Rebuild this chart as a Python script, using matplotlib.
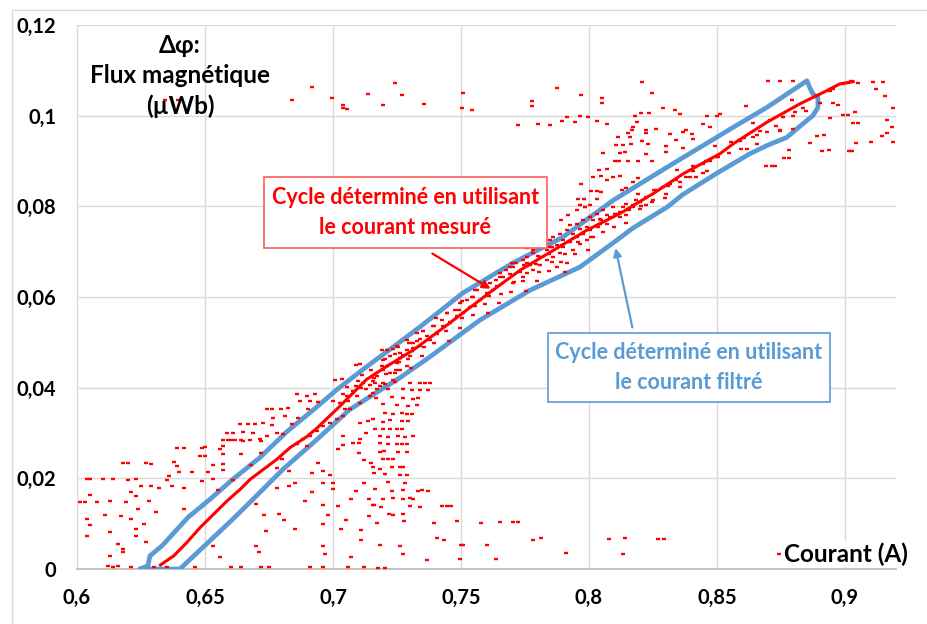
import matplotlib.pyplot as plt
from matplotlib.patches import Rectangle

plt.rcParams['font.family'] = ['Lato', 'DejaVu Sans']

ROUGE = '#FF0000'
BLEU = '#5B9BD5'
GRILLE = '#D9D9D9'

# Axes
x_ticks = [0.6, 0.65, 0.7, 0.75, 0.8, 0.85, 0.9]
x_labels = ['0,6', '0,65', '0,7', '0,75', '0,8', '0,85', '0,9']
y_ticks = [0, 0.02, 0.04, 0.06, 0.08, 0.1, 0.12]
y_labels = ['0', '0,02', '0,04', '0,06', '0,08', '0,1', '0,12']

# Cycle from the filtered current (closed loop)
filtre_x = [0.6246, 0.6277, 0.6285, 0.6332, 0.6434, 0.6520, 0.6609, 0.6715, 0.6820,
            0.6938, 0.7016, 0.7117, 0.7262, 0.7340, 0.7508, 0.7703, 0.7898, 0.8094,
            0.8305, 0.8563, 0.8695, 0.8852, 0.8863, 0.8875, 0.8895, 0.8895, 0.8875,
            0.8836, 0.8773, 0.8695, 0.8629, 0.8500, 0.8367, 0.8305, 0.8172, 0.8094,
            0.7965, 0.7770, 0.7574, 0.7379, 0.7262, 0.7066, 0.6938, 0.6805, 0.6688,
            0.6609, 0.6402, 0.6246]
filtre_y = [0.0, 0.0007, 0.0029, 0.0051, 0.0114, 0.0154, 0.0198, 0.0246, 0.0303,
            0.0358, 0.0396, 0.0440, 0.0501, 0.0534, 0.0609, 0.0675, 0.0732, 0.0813,
            0.0886, 0.0974, 0.1018, 0.1077, 0.1062, 0.1048, 0.1040, 0.1018, 0.1000,
            0.0982, 0.0952, 0.0934, 0.0916, 0.0873, 0.0826, 0.0798, 0.0752, 0.0719,
            0.0666, 0.0615, 0.0549, 0.0468, 0.0422, 0.0352, 0.0286, 0.0220, 0.0154,
            0.0110, 0.0, 0.0]

# Cycle from the measured current: dense central trace
trace_x = [0.6326, 0.6378, 0.6430, 0.6482, 0.6534, 0.6586, 0.6638, 0.6677, 0.6729,
           0.6781, 0.6833, 0.6898, 0.6936, 0.7027, 0.7131, 0.7210, 0.7314, 0.7450,
           0.7613, 0.7731, 0.7861, 0.7991, 0.8121, 0.8251, 0.8369, 0.8512, 0.8564,
           0.8694, 0.8824, 0.8915, 0.8980, 0.9033]
trace_y = [0.0009, 0.0029, 0.0059, 0.0092, 0.0121, 0.0150, 0.0176, 0.0198, 0.0220,
           0.0242, 0.0268, 0.0292, 0.0310, 0.0359, 0.0418, 0.0447, 0.0483, 0.0540,
           0.0610, 0.0659, 0.0703, 0.0747, 0.0784, 0.0828, 0.0872, 0.0916, 0.0938,
           0.0985, 0.1026, 0.1051, 0.1070, 0.1075]

# Measured points spread inside the loop
bande_x = [0.7197, 0.7223, 0.7210, 0.7249, 0.7262, 0.7242, 0.7288, 0.7314, 0.7301, 0.7327,
           0.7353, 0.7340, 0.7366, 0.7392, 0.7379, 0.7405, 0.7425, 0.7444, 0.7431, 0.7457,
           0.7477, 0.7496, 0.7483, 0.7509, 0.7522, 0.7535, 0.7548, 0.7561, 0.7574, 0.7587,
           0.7600, 0.7613, 0.7626, 0.7639, 0.7652, 0.7665, 0.7678, 0.7691, 0.7704, 0.7717,
           0.7730, 0.7743, 0.7757, 0.7770, 0.7783, 0.7796, 0.7809, 0.7822, 0.7835, 0.7848,
           0.7861, 0.7874, 0.7887, 0.7900, 0.7913, 0.7926, 0.7939, 0.7952, 0.7965, 0.7978,
           0.7991, 0.8004, 0.8017, 0.8030, 0.8043, 0.8056, 0.8069, 0.8095, 0.8121, 0.8147,
           0.8173, 0.8199, 0.8225,
           0.7001, 0.7027, 0.7053, 0.7079, 0.7092, 0.7118, 0.7131, 0.7158, 0.7171, 0.7197,
           0.7210, 0.7223, 0.7249, 0.7262, 0.7275, 0.7288, 0.7314, 0.7327, 0.7262, 0.7288,
           0.7236, 0.7184, 0.7145, 0.7105, 0.7066, 0.7040, 0.7014, 0.6988, 0.6962, 0.6936,
           0.6910, 0.6884, 0.6858,
           0.7757, 0.7783, 0.7744, 0.7809, 0.7835, 0.7861, 0.7848, 0.7887, 0.7900, 0.7926,
           0.7874, 0.7913, 0.7939, 0.7952, 0.7965, 0.7978, 0.7991, 0.8004, 0.8017, 0.8036,
           0.8049, 0.8069, 0.8082, 0.8102, 0.8121, 0.8134, 0.8147, 0.8173, 0.8186, 0.8199,
           0.8225, 0.8251, 0.8264, 0.8290, 0.8303, 0.8316, 0.8342, 0.8355, 0.8381, 0.8407,
           0.8420, 0.8446, 0.8460, 0.8473, 0.8499,
           0.8590, 0.8642, 0.8668, 0.8733, 0.8759, 0.8798, 0.8837, 0.8850, 0.8889, 0.8902,
           0.8941, 0.8954, 0.8994, 0.9013, 0.8798, 0.8746, 0.8655, 0.8616]
bande_y = [0.0462, 0.0469, 0.0447, 0.0491, 0.0476, 0.0432, 0.0506, 0.0498, 0.0469, 0.0520,
           0.0524, 0.0491, 0.0513, 0.0535, 0.0506, 0.0520, 0.0550, 0.0564, 0.0535, 0.0542,
           0.0571, 0.0586, 0.0557, 0.0564, 0.0593, 0.0579, 0.0601, 0.0615, 0.0593, 0.0623,
           0.0608, 0.0630, 0.0615, 0.0637, 0.0652, 0.0645, 0.0659, 0.0667, 0.0630, 0.0674,
           0.0656, 0.0681, 0.0689, 0.0670, 0.0696, 0.0711, 0.0689, 0.0718, 0.0703, 0.0725,
           0.0733, 0.0714, 0.0740, 0.0725, 0.0747, 0.0758, 0.0740, 0.0762, 0.0751, 0.0769,
           0.0755, 0.0777, 0.0769, 0.0784, 0.0762, 0.0791, 0.0780, 0.0799, 0.0788, 0.0806,
           0.0799, 0.0810, 0.0802,
           0.0370, 0.0366, 0.0381, 0.0392, 0.0403, 0.0410, 0.0396, 0.0414, 0.0425, 0.0439,
           0.0447, 0.0432, 0.0454, 0.0465, 0.0472, 0.0483, 0.0487, 0.0502, 0.0440, 0.0447,
           0.0418, 0.0403, 0.0381, 0.0366, 0.0352, 0.0337, 0.0330, 0.0322, 0.0315, 0.0304,
           0.0293, 0.0286, 0.0275,
           0.0674, 0.0659, 0.0645, 0.0670, 0.0681, 0.0689, 0.0711, 0.0696, 0.0711, 0.0722,
           0.0667, 0.0674, 0.0703, 0.0733, 0.0718, 0.0740, 0.0725, 0.0747, 0.0733, 0.0755,
           0.0769, 0.0762, 0.0777, 0.0784, 0.0777, 0.0799, 0.0780, 0.0802, 0.0813, 0.0795,
           0.0820, 0.0813, 0.0835, 0.0842, 0.0828, 0.0850, 0.0857, 0.0842, 0.0864, 0.0879,
           0.0864, 0.0894, 0.0879, 0.0901, 0.0908,
           0.0945, 0.0952, 0.0967, 0.0978, 0.0996, 0.1000, 0.1018, 0.1011, 0.1044, 0.1029,
           0.1055, 0.1059, 0.1070, 0.1071, 0.0971, 0.0967, 0.0938, 0.0927]

# Denser part of the measured cloud between 0.70 and 0.88 A
nuage_x = [0.7046, 0.7058, 0.7041, 0.7053, 0.7093, 0.7108, 0.7099, 0.7112,
           0.7156, 0.7143, 0.7159, 0.7147, 0.7196, 0.7207, 0.7191, 0.7204,
           0.7245, 0.7259, 0.7241, 0.7256, 0.7306, 0.7293, 0.7309, 0.7297,
           0.7347, 0.7356, 0.7342, 0.7353, 0.7396, 0.7408, 0.7393, 0.7404,
           0.7455, 0.7443, 0.7458, 0.7446, 0.7497, 0.7506, 0.7492, 0.7503,
           0.7546, 0.7557, 0.7543, 0.7554, 0.7605, 0.7593, 0.7608, 0.7596,
           0.7647, 0.7656, 0.7642, 0.7653, 0.7696, 0.7708, 0.7693, 0.7704,
           0.7755, 0.7743, 0.7758, 0.7746, 0.7797, 0.7806, 0.7792, 0.7803,
           0.7846, 0.7857, 0.7843, 0.7854, 0.7905, 0.7893, 0.7908, 0.7896,
           0.7947, 0.7956, 0.7996, 0.8008, 0.8055, 0.8043, 0.8097, 0.8106,
           0.8146, 0.8157, 0.8205, 0.8193, 0.8247, 0.8256, 0.8296, 0.8308,
           0.8355, 0.8343, 0.8397, 0.8406, 0.8446, 0.8457, 0.8505, 0.8493,
           0.8547, 0.8556, 0.8596, 0.8608, 0.8655, 0.8643, 0.8697, 0.8706,
           0.8746, 0.8757, 0.8805, 0.8793]
nuage_y = [0.0354, 0.0371, 0.0386, 0.0401, 0.0381, 0.0399, 0.0414, 0.0427,
           0.0388, 0.0406, 0.0422, 0.0438, 0.0411, 0.0430, 0.0447, 0.0464,
           0.0438, 0.0457, 0.0474, 0.0490, 0.0443, 0.0463, 0.0481, 0.0499,
           0.0469, 0.0489, 0.0507, 0.0526, 0.0498, 0.0519, 0.0537, 0.0554,
           0.0504, 0.0525, 0.0544, 0.0564, 0.0531, 0.0553, 0.0572, 0.0592,
           0.0560, 0.0581, 0.0599, 0.0616, 0.0564, 0.0584, 0.0603, 0.0622,
           0.0586, 0.0607, 0.0625, 0.0645, 0.0612, 0.0633, 0.0651, 0.0667,
           0.0614, 0.0635, 0.0653, 0.0671, 0.0635, 0.0655, 0.0673, 0.0691,
           0.0657, 0.0677, 0.0695, 0.0711, 0.0656, 0.0677, 0.0695, 0.0715,
           0.0694, 0.0721, 0.0704, 0.0732, 0.0743, 0.0771, 0.0754, 0.0782,
           0.0763, 0.0791, 0.0800, 0.0827, 0.0809, 0.0836, 0.0818, 0.0844,
           0.0854, 0.0880, 0.0864, 0.0889, 0.0874, 0.0899, 0.0909, 0.0932,
           0.0918, 0.0941, 0.0926, 0.0950, 0.0958, 0.0983, 0.0965, 0.0990,
           0.0969, 0.0997, 0.1007, 0.1035]

# Measured points scattered outside the loop
bruit_x = [
    # lower-left area
    0.639, 0.642, 0.650, 0.657, 0.660, 0.664, 0.672, 0.648, 0.650, 0.657, 0.664,
    0.618, 0.620, 0.627, 0.629, 0.638, 0.639, 0.653, 0.657, 0.640, 0.645, 0.651, 0.657,
    0.604, 0.605, 0.610, 0.614, 0.620, 0.623, 0.635, 0.636, 0.649, 0.653, 0.661,
    0.621, 0.625, 0.629, 0.632, 0.637, 0.642, 0.655, 0.605, 0.603, 0.601, 0.608, 0.613,
    0.619, 0.623, 0.628, 0.624, 0.631, 0.617, 0.621, 0.626, 0.642, 0.604, 0.605, 0.611,
    0.613, 0.623, 0.604, 0.616, 0.618, 0.613, 0.618, 0.627, 0.623, 0.612, 0.614, 0.616,
    0.621, 0.630, 0.635, 0.646, 0.653, 0.656, 0.660, 0.664, 0.672, 0.675, 0.670, 0.671,
    0.674, 0.679, 0.681, 0.685, 0.683, 0.685, 0.689, 0.692, 0.696, 0.696, 0.699, 0.700,
    0.700, 0.702, 0.704, 0.710, 0.710, 0.712, 0.715, 0.716, 0.712, 0.709, 0.714, 0.716,
    0.707, 0.702, 0.696, 0.698, 0.696, 0.703, 0.705, 0.711, 0.714, 0.711, 0.707, 0.697,
    0.696, 0.691, 0.696, 0.706, 0.712, 0.673, 0.670, 0.678, 0.678, 0.668, 0.672, 0.680,
    0.683, 0.690, 0.694, 0.692,
    # above the loop, left half
    0.6858, 0.6897, 0.6930, 0.6871, 0.6910, 0.6943, 0.6741, 0.6760, 0.6799, 0.6826,
    0.6904, 0.6767, 0.6812, 0.6865, 0.6839, 0.6637, 0.6669, 0.6695, 0.6728, 0.6760,
    0.6585, 0.6611, 0.6650, 0.6689, 0.6741, 0.6780, 0.6806, 0.6591, 0.6617, 0.6650,
    0.6676, 0.6715, 0.6572, 0.6487, 0.6559, 0.7008, 0.7034, 0.7092, 0.7105, 0.7190,
    0.7210, 0.7236,
    # below the loop, middle
    0.7040, 0.7079, 0.7105, 0.7131, 0.7105, 0.7138,
    0.7165, 0.7204, 0.7243, 0.7301, 0.7340, 0.7360, 0.7379, 0.7171, 0.7217, 0.7275,
    0.7308, 0.7340, 0.7373, 0.7168, 0.7230, 0.7275, 0.7314, 0.7334, 0.7197, 0.7249,
    0.7295, 0.7327, 0.7204, 0.7236, 0.7269, 0.7288, 0.7308, 0.7158, 0.7197, 0.7223,
    0.7269, 0.7295, 0.7165, 0.7197, 0.7223, 0.7249, 0.7269, 0.7184, 0.7217, 0.7256,
    0.7282, 0.7314, 0.7184, 0.7217, 0.7249, 0.7269, 0.7288, 0.7184, 0.7200, 0.7256,
    0.7288, 0.7197, 0.7217, 0.7236, 0.7158, 0.7184, 0.7230, 0.7262, 0.7275, 0.7204,
    0.7262, 0.7288, 0.7217, 0.7282, 0.7165, 0.7230, 0.7275, 0.7334, 0.7347, 0.7373,
    0.7197, 0.7236, 0.7275, 0.7301, 0.7314, 0.7158, 0.7187, 0.7301, 0.7340, 0.7425,
    0.7444, 0.7461, 0.7221, 0.7234, 0.7275, 0.7174, 0.7279, 0.7395, 0.7484, 0.7577,
    0.7653, 0.7705, 0.7724, 0.7405, 0.7435, 0.7499, 0.7510, 0.7601, 0.7783, 0.7812,
    0.8080, 0.8141, 0.8271, 0.8295, 0.7184, 0.7262, 0.7275, 0.7369, 0.7497, 0.7637,
    0.7911, 0.8134, 0.7178, 0.7204, 0.8743,
    # top band
    0.6842, 0.6917, 0.6995, 0.7040, 0.7040, 0.7053, 0.7138, 0.7197, 0.7242, 0.7268,
    0.7355, 0.7509, 0.7503, 0.7542, 0.7724, 0.7779, 0.7776, 0.7802, 0.7848, 0.7876,
    0.7896, 0.7913, 0.7945, 0.7965, 0.7971, 0.7997, 0.8033, 0.8050, 0.8053, 0.8069,
    0.6344, 0.6395, 0.6402,
    # above the loop, right half
    0.7893, 0.7919, 0.7952, 0.7965, 0.7984, 0.7757, 0.7783, 0.7698,
    0.8245, 0.8290, 0.8336, 0.8355, 0.8460, 0.8499, 0.8180, 0.8202, 0.8236, 0.8189,
    0.8173, 0.8167, 0.8154, 0.8115, 0.8160, 0.8223, 0.8223, 0.8264, 0.8316, 0.8342,
    0.8368, 0.8381, 0.8401, 0.8407, 0.8444, 0.8473, 0.8106, 0.8134, 0.8164, 0.8206,
    0.8232, 0.8303, 0.8368, 0.8056, 0.8121, 0.8141, 0.8225, 0.8245, 0.8303, 0.8102,
    0.8119, 0.8154, 0.8193, 0.8072, 0.8040, 0.8121, 0.8095, 0.8069, 0.8049, 0.8017,
    0.8193, 0.8173, 0.8147, 0.8128, 0.7969, 0.8008, 0.8033, 0.8047, 0.7958, 0.7980,
    0.8033, 0.7984, 0.8004,
    # right end of the loop
    0.8206, 0.8512, 0.8613, 0.8954, 0.8974, 0.8994, 0.9013, 0.9039, 0.8944, 0.9033,
    0.9050, 0.9156, 0.9121, 0.9111, 0.9150, 0.8701, 0.8746, 0.8798, 0.9026, 0.9052,
    0.9163, 0.9189, 0.9186, 0.9147, 0.9165, 0.9104, 0.9043, 0.9017, 0.9030, 0.8909,
    0.8939, 0.8892, 0.8918, 0.8863, 0.8783, 0.8763, 0.8783, 0.8691, 0.8714, 0.8727,
    0.9189]
bruit_y = [
    0.0267, 0.0267, 0.0270, 0.0284, 0.0284, 0.0284, 0.0282, 0.0250, 0.0250, 0.0253, 0.0253,
    0.0233, 0.0233, 0.0234, 0.0231, 0.0236, 0.0227, 0.0229, 0.0231, 0.0215, 0.0215, 0.0214, 0.0218,
    0.0198, 0.0198, 0.0198, 0.0199, 0.0196, 0.0199, 0.0196, 0.0205, 0.0194, 0.0198, 0.0196,
    0.0169, 0.0183, 0.0183, 0.0179, 0.0183, 0.0179, 0.0174, 0.0163, 0.0148, 0.0147, 0.0147, 0.0150,
    0.0147, 0.0161, 0.0150, 0.0132, 0.0126, 0.0116, 0.0110, 0.0099, 0.0132, 0.0110, 0.0097, 0.0119,
    0.0081, 0.0089, 0.0073, 0.0055, 0.0044, 0.0028, 0.0037, 0.0059, 0.0073, 0.0007, 0.0004, 0.0007,
    0.0004, 0.0004, 0.0004, 0.0004, 0.0051, 0.0026, 0.0004, 0.0004, 0.0004, 0.0004, 0.0051, 0.0037,
    0.0084, 0.0121, 0.0108, 0.0088, 0.0183, 0.0190, 0.0150, 0.0169, 0.0190, 0.0216, 0.0207, 0.0190,
    0.0176, 0.0264, 0.0273, 0.0277, 0.0256, 0.0240, 0.0234, 0.0212, 0.0190, 0.0172, 0.0155, 0.0141,
    0.0155, 0.0139, 0.0141, 0.0119, 0.0099, 0.0088, 0.0108, 0.0086, 0.0117, 0.0064, 0.0026, 0.0033,
    0.0051, 0.0004, 0.0004, 0.0004, 0.0004, 0.0119, 0.0143, 0.0223, 0.0179, 0.0229, 0.0256, 0.0242,
    0.0216, 0.0271, 0.0234, 0.0212,
    0.0385, 0.0382, 0.0385, 0.0370, 0.0370, 0.0368, 0.0352, 0.0352, 0.0352, 0.0355,
    0.0352, 0.0333, 0.0337, 0.0333, 0.0319, 0.0319, 0.0319, 0.0319, 0.0321, 0.0318,
    0.0300, 0.0300, 0.0302, 0.0300, 0.0293, 0.0300, 0.0297, 0.0284, 0.0284, 0.0282,
    0.0284, 0.0286, 0.0271, 0.0267, 0.0264, 0.0418, 0.0419, 0.0450, 0.0453, 0.0483,
    0.0483, 0.0485,
    0.0293, 0.0278, 0.0286, 0.0300, 0.0322, 0.0326,
    0.0410, 0.0409, 0.0412, 0.0410, 0.0410, 0.0410, 0.0410, 0.0396, 0.0397, 0.0396,
    0.0394, 0.0394, 0.0394, 0.0377, 0.0380, 0.0377, 0.0376, 0.0377, 0.0363, 0.0361,
    0.0359, 0.0361, 0.0344, 0.0343, 0.0344, 0.0343, 0.0343, 0.0330, 0.0324, 0.0328,
    0.0326, 0.0326, 0.0308, 0.0309, 0.0309, 0.0309, 0.0309, 0.0293, 0.0292, 0.0293,
    0.0292, 0.0293, 0.0277, 0.0275, 0.0276, 0.0275, 0.0276, 0.0258, 0.0260, 0.0258,
    0.0258, 0.0242, 0.0242, 0.0242, 0.0226, 0.0221, 0.0224, 0.0224, 0.0224, 0.0209,
    0.0207, 0.0207, 0.0191, 0.0189, 0.0176, 0.0172, 0.0174, 0.0172, 0.0174, 0.0172,
    0.0154, 0.0157, 0.0155, 0.0157, 0.0155, 0.0141, 0.0137, 0.0139, 0.0137, 0.0139,
    0.0138, 0.0139, 0.0121, 0.0119, 0.0121, 0.0101, 0.0105, 0.0101, 0.0105, 0.0102,
    0.0104, 0.0103, 0.0103, 0.0069, 0.0065, 0.0053, 0.0054, 0.0054, 0.0065, 0.0068,
    0.0066, 0.0068, 0.0066, 0.0067, 0.0054, 0.0051, 0.0032, 0.0019, 0.0022, 0.0021,
    0.0035, 0.0032, 0.0003, 0.0003, 0.0034,
    0.1034, 0.1064, 0.1038, 0.1024, 0.1016, 0.1015, 0.1048, 0.1023, 0.1073, 0.1046,
    0.1026, 0.1049, 0.1016, 0.1013, 0.0980, 0.1033, 0.1022, 0.0982, 0.0980, 0.1062,
    0.0988, 0.0998, 0.0987, 0.0999, 0.1045, 0.0996, 0.0989, 0.1038, 0.1027, 0.0982,
    0.1035, 0.1035, 0.1066,
    0.0769, 0.0780, 0.0791, 0.0802, 0.0799, 0.0707, 0.0703, 0.0674,
    0.1049, 0.1018, 0.1012, 0.1004, 0.1000, 0.1000, 0.1000, 0.1005, 0.1005, 0.0985,
    0.0976, 0.0968, 0.0961, 0.0952, 0.0952, 0.0968, 0.0961, 0.0971, 0.0960, 0.0946,
    0.0963, 0.0968, 0.0960, 0.0949, 0.0982, 0.0976, 0.0936, 0.0936, 0.0938, 0.0945,
    0.0938, 0.0934, 0.0929, 0.0917, 0.0917, 0.0919, 0.0916, 0.0901, 0.0919, 0.0900,
    0.0900, 0.0901, 0.0900, 0.0883, 0.0881, 0.0866, 0.0864, 0.0857, 0.0866, 0.0864,
    0.0863, 0.0854, 0.0840, 0.0835, 0.0850, 0.0834, 0.0834, 0.0832, 0.0817, 0.0817,
    0.0817, 0.0799, 0.0802,
    0.1075, 0.1004, 0.1022, 0.1029, 0.1024, 0.1002, 0.1001, 0.1007, 0.0995, 0.0983,
    0.0984, 0.1044, 0.1059, 0.1075, 0.1075, 0.1077, 0.1077, 0.1077, 0.1077, 0.1073,
    0.0990, 0.1018, 0.0976, 0.0956, 0.0961, 0.0941, 0.0939, 0.0923, 0.0923, 0.0922,
    0.0925, 0.0956, 0.0958, 0.0939, 0.0925, 0.0906, 0.0906, 0.0888, 0.0888, 0.0888,
    0.0941]

fig = plt.figure(figsize=(9.27, 6.24), dpi=100, facecolor='white')
ax = fig.add_axes([77 / 927, 1 - 569 / 624, (896 - 77) / 927, (569 - 25) / 624])

# Outer chart frame
fig.patches.append(Rectangle((12 / 927, -0.1), 1.1, 1 - 10 / 624 + 0.1, transform=fig.transFigure,
                             fill=False, edgecolor=GRILLE, linewidth=1.0))

ax.plot(filtre_x, filtre_y, color=BLEU, lw=3.4, solid_joinstyle='round',
        solid_capstyle='round', zorder=3)
ax.plot(trace_x, trace_y, color=ROUGE, lw=2.2, zorder=4)
# Excel-style tiny dash markers
for px, py in [(bande_x, bande_y), (nuage_x, nuage_y), (bruit_x, bruit_y)]:
    ax.plot(px, py, '_', color=ROUGE, ms=3.0, mew=1.7, zorder=4)

ax.set_xlim(0.6, 0.92)
ax.set_ylim(0, 0.12)
ax.set_xticks(x_ticks)
ax.set_xticklabels(x_labels, fontsize=14.5, fontweight='bold')
ax.set_yticks(y_ticks)
ax.set_yticklabels(y_labels, fontsize=14.5, fontweight='bold')
ax.tick_params(length=0)
ax.tick_params(axis='y', pad=15)
ax.tick_params(axis='x', pad=14)
ax.grid(True, color=GRILLE, lw=1.0)
ax.set_axisbelow(True)
for side in ['top', 'right']:
    ax.spines[side].set_visible(False)
ax.spines['left'].set_color(GRILLE)
ax.spines['bottom'].set_color('#BFBFBF')
ax.spines['bottom'].set_linewidth(1.3)

# Axis titles inside the plot
ax.text(0.6402, 0.1088, 'Δφ:\nFlux magnétique\n(µWb)', ha='center', va='center',
        fontsize=17.5, fontweight='bold', linespacing=1.37, zorder=6)
ax.text(0.9004, 0.0033, 'Courant (A)', ha='center', va='center',
        fontsize=17.5, fontweight='bold', zorder=6,
        bbox=dict(boxstyle='square,pad=0.05', facecolor='white', edgecolor='none'))

# Callout for the measured-current cycle
ax.add_patch(Rectangle((0.6730, 0.0708), 0.1105, 0.0156, facecolor='white',
                       edgecolor='#FF5B5B', lw=1.2, zorder=6))
ax.text(0.7283, 0.0786, 'Cycle déterminé en utilisant\nle courant mesuré', ha='center',
        va='center', color=ROUGE, fontsize=15.5, fontweight='bold', linespacing=1.5, zorder=7)
ax.annotate('', xy=(0.7625, 0.0615), xytext=(0.7379, 0.0699),
            arrowprops=dict(arrowstyle='-|>', color=ROUGE, lw=1.6, mutation_scale=12),
            zorder=7)

# Callout for the filtered-current cycle
ax.add_patch(Rectangle((0.7840, 0.0369), 0.1101, 0.0152, facecolor='white',
                       edgecolor=BLEU, lw=1.2, zorder=6))
ax.text(0.8391, 0.0445, 'Cycle déterminé en utilisant\nle courant filtré', ha='center',
        va='center', color=BLEU, fontsize=15.5, fontweight='bold', linespacing=1.5, zorder=7)
ax.annotate('', xy=(0.8102, 0.0714), xytext=(0.8172, 0.0527),
            arrowprops=dict(arrowstyle='-|>', color=BLEU, lw=1.6, mutation_scale=12),
            zorder=7)

fig.savefig('out.png', dpi=100, facecolor='white')
